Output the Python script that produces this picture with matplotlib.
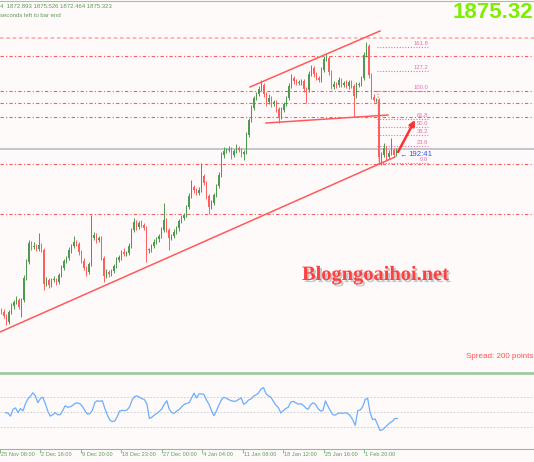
import matplotlib
matplotlib.use("Agg")
import matplotlib.pyplot as plt
import matplotlib.patheffects as pe
import numpy as np

W, H = 534, 462

# ---- price data (bar closes, wick sizes) ----
open_first = 1795.0
closes = [
    1794.0, 1792.0, 1789.0, 1794.0, 1797.0, 1799.0, 1800.0, 1796.5, 1800.0, 1811.0,
    1819.0, 1828.5, 1826.5, 1827.0, 1825.5, 1827.5, 1825.0, 1808.0, 1810.0, 1807.5,
    1810.0, 1810.0, 1809.0, 1812.5, 1816.0, 1819.5, 1821.0, 1825.0, 1827.0, 1829.0,
    1828.0, 1824.0, 1819.5, 1816.0, 1814.0, 1818.0, 1831.0, 1832.5, 1830.0, 1831.0,
    1821.0, 1812.0, 1814.0, 1813.0, 1814.5, 1817.0, 1820.0, 1821.5, 1824.0, 1823.0,
    1823.5, 1827.0, 1835.0, 1839.0, 1836.5, 1838.5, 1837.5, 1836.0, 1825.0, 1825.0,
    1827.0, 1829.0, 1830.5, 1832.0, 1835.0, 1840.0, 1835.0, 1831.0, 1832.0, 1834.0,
    1836.0, 1839.5, 1841.0, 1842.5, 1846.5, 1852.0, 1856.5, 1855.0, 1853.5, 1855.0,
    1862.0, 1858.5, 1852.0, 1846.5, 1848.5, 1852.5, 1857.0, 1862.5, 1872.5, 1874.5,
    1875.0, 1875.5, 1872.5, 1874.5, 1876.0, 1875.0, 1873.0, 1874.0, 1882.5, 1890.0,
    1896.0, 1901.0, 1903.0, 1905.5, 1907.5, 1903.0, 1899.0, 1901.0, 1898.0, 1899.0,
    1895.5, 1891.5, 1895.0, 1898.0, 1901.0, 1907.0, 1911.0, 1909.5, 1908.5, 1908.5,
    1909.5, 1905.5, 1905.0, 1913.0, 1916.0, 1913.0, 1911.0, 1910.0, 1915.0, 1920.5,
    1921.0, 1914.0, 1906.5, 1908.0, 1907.5, 1910.0, 1907.5, 1908.5, 1907.0, 1909.0,
    1907.0, 1902.0, 1907.5, 1908.0, 1911.0, 1922.5, 1927.0, 1912.5, 1901.5, 1900.0,
    1900.0, 1871.5, 1872.5, 1876.0, 1871.5, 1873.5, 1875.0, 1872.5, 1875.32,
]
upper_wick = [
    1.0, 1.5, 1.0, 1.0, 1.5, 1.0, 2.0, 1.0, 1.0, 1.5,
    1.5, 1.5, 1.0, 2.0, 1.0, 6.0, 1.0, 1.0, 1.5, 1.0,
    1.0, 2.0, 1.0, 1.0, 1.5, 1.0, 1.0, 1.5, 1.0, 3.0,
    1.0, 1.0, 1.0, 1.5, 1.0, 1.0, 11.5, 1.5, 1.0, 1.0,
    1.0, 1.0, 1.5, 1.0, 1.0, 1.0, 1.5, 1.0, 1.0, 2.0,
    1.0, 1.5, 1.0, 2.0, 1.0, 1.0, 1.5, 1.0, 1.0, 1.0,
    1.0, 1.5, 1.0, 1.0, 1.5, 8.5, 1.0, 1.0, 1.0, 1.5,
    1.0, 1.0, 1.5, 1.0, 1.0, 1.5, 3.5, 1.0, 1.0, 1.5,
    6.5, 1.0, 1.0, 1.0, 1.5, 1.0, 1.0, 1.5, 1.5, 2.0,
    1.0, 1.5, 1.0, 1.0, 2.0, 1.0, 1.0, 1.0, 1.5, 1.0,
    1.5, 1.0, 1.0, 1.5, 2.5, 1.0, 1.0, 2.0, 1.0, 1.0,
    1.0, 1.0, 1.5, 1.0, 1.0, 1.5, 2.0, 1.0, 1.0, 1.5,
    1.0, 1.0, 1.0, 1.5, 1.5, 1.0, 1.0, 1.0, 1.5, 1.5,
    2.5, 1.0, 1.0, 1.5, 1.0, 1.5, 1.0, 1.0, 1.5, 1.0,
    1.0, 1.0, 1.5, 1.0, 1.0, 1.5, 2.0, 1.0, 1.0, 1.5,
    1.0, 1.0, 1.5, 2.5, 1.0, 1.5, 6.0, 1.0, 0.5,
]
lower_wick = [
    1.0, 1.0, 1.5, 1.0, 1.0, 1.5, 1.0, 1.0, 5.0, 1.0,
    1.0, 1.0, 1.5, 1.0, 1.0, 1.0, 1.0, 3.0, 1.0, 1.5,
    1.0, 1.0, 1.5, 1.0, 1.0, 1.0, 1.0, 1.0, 1.5, 1.0,
    1.0, 1.5, 1.0, 1.0, 2.0, 1.0, 1.0, 1.0, 1.5, 1.0,
    1.0, 3.0, 1.0, 1.5, 1.0, 1.0, 1.0, 1.0, 1.5, 1.0,
    1.0, 1.0, 1.0, 1.0, 1.5, 1.0, 1.0, 1.0, 6.0, 1.5,
    1.0, 1.0, 1.0, 1.5, 1.0, 1.0, 1.0, 6.0, 1.0, 1.0,
    1.0, 1.5, 1.0, 1.0, 1.0, 1.0, 1.0, 1.5, 1.0, 1.0,
    1.0, 1.0, 1.5, 3.5, 1.0, 1.0, 1.0, 1.0, 1.0, 1.5,
    1.0, 1.0, 2.0, 1.0, 1.0, 1.0, 1.5, 3.0, 1.0, 1.0,
    1.0, 1.0, 1.0, 1.0, 1.0, 1.5, 2.0, 1.0, 1.5, 1.0,
    1.5, 3.0, 1.0, 1.0, 1.0, 1.0, 1.0, 1.5, 1.0, 1.0,
    1.0, 1.5, 6.5, 1.0, 1.0, 1.5, 1.0, 1.0, 1.0, 1.0,
    1.0, 1.5, 1.0, 1.0, 1.5, 1.0, 1.0, 1.0, 1.0, 1.5,
    1.0, 10.5, 1.0, 1.0, 1.0, 1.0, 1.0, 1.5, 1.0, 1.0,
    1.0, 3.0, 4.0, 1.0, 1.5, 1.0, 1.0, 1.0, 0.5,
]
rsi = [
    49.1, 48.5, 44.6, 53.6, 55.4, 49.1, 54.5, 51.3, 60.8, 67.1,
    70.7, 75.1, 71.1, 62.1, 67.5, 69.3, 61.2, 51.3, 44.6, 46.4,
    49.1, 46.4, 46.4, 51.7, 58.1, 56.3, 56.7, 58.5, 61.2, 62.1,
    60.8, 57.2, 51.7, 47.3, 47.8, 52.2, 62.6, 64.8, 63.9, 64.8,
    54.9, 46.4, 39.7, 37.4, 38.3, 43.7, 51.3, 52.2, 51.8, 52.7,
    56.7, 65.7, 70.2, 71.1, 69.3, 67.5, 66.2, 60.3, 41.5, 43.3,
    46.0, 48.2, 50.9, 54.0, 60.3, 64.8, 53.6, 49.1, 48.2, 51.3,
    53.1, 56.7, 59.9, 61.2, 62.1, 68.4, 74.7, 68.4, 73.8, 73.8,
    72.9, 65.7, 60.3, 52.2, 45.1, 51.3, 59.0, 65.7, 69.3, 68.0,
    66.2, 64.8, 63.9, 64.4, 66.6, 68.4, 59.9, 62.1, 65.7, 67.1,
    70.7, 72.5, 74.7, 80.1, 81.9, 74.2, 71.1, 69.3, 63.9, 59.0,
    55.8, 48.7, 51.8, 54.5, 56.3, 63.0, 63.9, 62.1, 60.3, 60.8,
    59.0, 55.4, 53.6, 59.4, 62.1, 59.9, 54.5, 51.3, 52.2, 64.4,
    57.6, 51.3, 46.4, 46.0, 48.2, 48.7, 48.2, 49.1, 47.8, 45.1,
    39.7, 32.5, 51.8, 52.7, 56.7, 66.2, 68.0, 49.1, 40.1, 41.0,
    33.8, 25.8, 26.7, 29.8, 32.9, 36.1, 37.9, 41.5, 41.5,
]

# horizontal levels, current price, fibonacci, trend lines
h_levels = [1922.0, 1904.5, 1898.5, 1891.5, 1868.0, 1843.0]
h_level_top = 1931.0
current_price = 1875.32
fib_low, fib_high = 1868.5, 1904.5
fib_levels = [0.0, 23.6, 38.2, 50.0, 61.8, 100.0, 127.2, 161.8]
fib_span = (150.3, 170.7)
trend_main = ([-0.5, 157.5], [1784.0, 1871.5])
channel_top = ([99.5, 151.5], [1906.5, 1934.5])
channel_bottom = ([105.9, 154.7], [1888.5, 1892.5])
arrow_from, arrow_to = (158.7, 1874.0), (165.5, 1890.0)

tick_pos = [-2.26, 14.06, 30.3, 46.6, 63.0, 79.2, 95.7, 112.0, 128.3, 144.7]
tick_labels = ["25 Nov 08:00", "2 Dec 16:00", "9 Dec 20:00", "18 Dec 23:00",
               "27 Dec 00:00", "4 Jan 04:00", "11 Jan 08:00", "18 Jan 12:00",
               "25 Jan 16:00", "1 Feb 20:00"]

BG = "#fffafa"
UP = "#4f9a4f"
DOWN = "#ff5e5e"
LINE_RED = "#ff5a5a"
GREEN_TXT = "#5e9a5e"
SMALL = ["Liberation Sans", "DejaVu Sans"]


def fx(px):
    return px / W


def fy(py):
    return 1 - py / H


fig = plt.figure(figsize=(W / 100, H / 100), dpi=100, facecolor=BG)

# ---- main price window ----
ax = fig.add_axes([0, fy(372), 1, 372 / H])
ax.set_facecolor(BG)
for s in ax.spines.values():
    s.set_visible(False)
ax.set_xticks([])
ax.set_yticks([])
ax.set_xlim(-0.5, (W - 1.25) / 2.5)
ax.set_ylim(1950 - 372 / 2, 1950)

c = np.array(closes)
o = np.r_[open_first, c[:-1]]
hi = np.maximum(o, c) + np.array(upper_wick)
lo = np.minimum(o, c) - np.array(lower_wick)
x = np.arange(len(c))
up = c >= o
colors = np.where(up, UP, DOWN)

for yv in h_levels:
    ax.axhline(yv, color=LINE_RED, lw=0.8, ls=(0, (3, 2, 1, 2)), zorder=1)
ax.axhline(h_level_top, color="#ffb0b0", lw=1.3, ls=(0, (2, 1.5)), zorder=1)
ax.axhline(current_price, color="#c4c4cc", lw=1.4, zorder=1)

ax.vlines(x, lo, hi, colors=colors, lw=0.7, zorder=3)
body_h = np.maximum(np.abs(c - o), 0.4)
ax.bar(x, body_h, bottom=np.minimum(o, c), width=0.6, color=colors,
       linewidth=0, zorder=3)

for xs, ys in (trend_main, channel_top, channel_bottom):
    ax.plot(xs, ys, color=LINE_RED, lw=1.1, zorder=4)

# fibonacci
fib_col = "#e070b0"
for lvl in fib_levels:
    yv = fib_low + (fib_high - fib_low) * lvl / 100
    ax.plot(fib_span, [yv, yv], color=fib_col, lw=0.8, ls=(0, (1, 1.5)), zorder=2)
    ax.text(fib_span[1], yv + 0.5, f"{lvl:.1f}", color=fib_col, fontsize=4.2,
            ha="right", va="bottom", family=SMALL, zorder=5)
ax.plot([fib_span[0] + 0.4, fib_span[0] + 0.8], [fib_high, fib_low], color=LINE_RED,
        lw=0.8, ls=(0, (1, 1.5)), zorder=2)

ax.annotate("", xy=arrow_to, xytext=arrow_from,
            arrowprops=dict(arrowstyle="-|>", color="#ff3030", lw=1.8,
                            mutation_scale=8, shrinkA=0, shrinkB=0), zorder=6)

# ---- RSI window ----
ax2 = fig.add_axes([0, fy(449), 1, 75 / H])
ax2.set_facecolor(BG)
for s in ax2.spines.values():
    s.set_visible(False)
ax2.set_xlim(ax.get_xlim())
ax2.set_ylim(1.6, 99.7)
ax2.set_yticks([])
for g in (70, 50, 30):
    ax2.axhline(g, color="#c8c8c8", lw=0.6, ls=(0, (2, 2)))
ax2.plot(x, rsi, color="#6aaeff", lw=0.9)
ax2.set_xticks(tick_pos)
ax2.set_xticklabels([])
ax2.tick_params(axis="x", length=3, width=0.8, color="#8fbf8f", direction="out")
for tp, lab in zip(tick_pos, tick_labels):
    ax2.text(tp + 0.4, -0.1, lab, transform=ax2.get_xaxis_transform(),
             fontsize=4.1, color=GREEN_TXT, ha="left", va="baseline",
             family=SMALL, clip_on=False)

# frame lines
fig.add_artist(plt.Line2D([0, 1], [fy(1), fy(1)], color="#9cc89c", lw=0.8))
fig.add_artist(plt.Line2D([0, 1], [fy(373), fy(373)], color="#9cc89c", lw=1.9))
fig.add_artist(plt.Line2D([0, 1], [fy(449), fy(449)], color="#8fbf8f", lw=0.8))

# ---- texts ----
fig.text(fx(0), fy(8.3), "4  1872.893 1875.526 1872.464 1875.323", fontsize=4.3,
         color=GREEN_TXT, ha="left", va="baseline", family=SMALL)
fig.text(fx(0), fy(17), "seconds left to bar end", fontsize=4.3,
         color=GREEN_TXT, ha="left", va="baseline", family=SMALL)
fig.text(fx(533), fy(18.3), "1875.32", fontsize=16, fontweight="bold",
         color="#7cf000", ha="right", va="baseline", family="Liberation Sans")
fig.text(fx(302), fy(280), "Blogngoaihoi.net", fontsize=14.7, fontweight="bold",
         color="#ff4040", ha="left", va="baseline", family="Liberation Serif",
         path_effects=[pe.SimplePatchShadow(offset=(1.5, -1.5), shadow_rgbFace="#888888",
                                            alpha=0.45), pe.Normal()])
fig.text(fx(533), fy(358.3), "Spread: 200 points", fontsize=5.8, color="#ff5050",
         ha="right", va="baseline", family="Liberation Sans")
fig.text(fx(400), fy(156.5), "\u2190", fontsize=5, color="#3050ff",
         ha="left", va="baseline", family=SMALL)
fig.text(fx(408), fy(156.5), "192:41", fontsize=5.6, color="#3050ff",
         ha="left", va="baseline", family=SMALL)

fig.savefig("out.png", dpi=100, facecolor=BG)
